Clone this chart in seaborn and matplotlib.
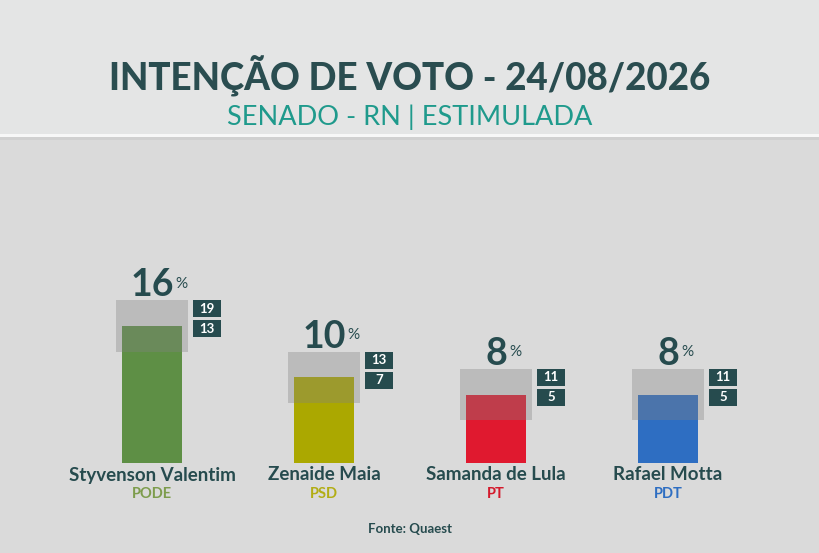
import matplotlib
matplotlib.use("Agg")
import matplotlib.pyplot as plt
import seaborn as sns
from matplotlib.patches import Rectangle

# données
candidatos = ["Styvenson Valentim", "Zenaide Maia", "Samanda de Lula", "Rafael Motta"]
partidos = ["PODE", "PSD", "PT", "PDT"]
valores = [16, 10, 8, 8]
limite_sup = [19, 13, 11, 11]
limite_inf = [13, 7, 5, 5]

cores = ["#5e8f45", "#aba800", "#e0192f", "#2e6ec2"]
cores_partido = ["#7d9c4c", "#b2ad14", "#d41a2c", "#2e6ec2"]
TEAL = "#264b4e"
PX = 0.72  # 1 px en points (dpi 100)

sns.set_theme(style="white")
plt.rcParams["font.family"] = ["Lato", "DejaVu Sans"]

fig = plt.figure(figsize=(8.2, 5.53), dpi=100)
fig.patch.set_facecolor("#dadada")

# bandeau du titre
fig.patches.append(Rectangle((0, 1 - 134 / 553), 1, 134 / 553, transform=fig.transFigure,
                             facecolor="#e4e5e5", edgecolor="none", zorder=0))
fig.patches.append(Rectangle((0, 1 - 140 / 553), 1, 4 / 553, transform=fig.transFigure,
                             facecolor="#d0d0d0", edgecolor="none", zorder=0))
fig.patches.append(Rectangle((0, 1 - 137 / 553), 1, 3 / 553, transform=fig.transFigure,
                             facecolor="#f7f7f7", edgecolor="none", zorder=1))

fig.text(0.5, 1 - 76 / 553, "INTENÇÃO DE VOTO - 24/08/2026", ha="center", va="center",
         fontsize=26.5, fontweight="black", color="#2a4d50")
fig.text(0.5, 1 - 117 / 553, "SENADO - RN | ESTIMULADA", ha="center", va="center",
         fontsize=19.5, fontweight="normal", color="#1f9a8c")
fig.text(0.5, 1 - 529 / 553, "Fonte: Quaest", ha="center", va="center",
         fontsize=9.5, fontweight="bold", color=TEAL)

# axe : y=0 au pixel 463, 8.56 px par point de pourcentage
ax = fig.add_axes([0, (553 - 463) / 553, 1, 300 / 553])
ax.set_facecolor("none")
sns.barplot(x=candidatos, y=valores, hue=candidatos, palette=cores, legend=False,
            width=60 / 172, saturation=1, linewidth=0, edgecolor="none", ax=ax, zorder=2)

pos = list(range(len(candidatos)))
# marge d'erreur
ax.bar(pos, [s - i for s, i in zip(limite_sup, limite_inf)], bottom=limite_inf,
       width=72 / 172, color="#828282", alpha=0.35, zorder=3, linewidth=0)

# petites boîtes à droite
box_h = 17 / 8.56
gap = 3 / 8.56
bx = [p + 55 / 172 for p in pos]
ax.bar(bx, box_h, bottom=[s - box_h for s in limite_sup], width=28 / 172,
       color=TEAL, zorder=4, linewidth=0)
ax.bar(bx, box_h, bottom=[s - 2 * box_h - gap for s in limite_sup], width=28 / 172,
       color=TEAL, zorder=4, linewidth=0)

for p, x, v, s, i, nome, part, cp in zip(pos, bx, valores, limite_sup, limite_inf,
                                         candidatos, partidos, cores_partido):
    ax.text(x, s - box_h / 2, str(s), ha="center", va="center", fontsize=9.5,
            fontweight="bold", color="white", zorder=5)
    ax.text(x, s - 1.5 * box_h - gap, str(i), ha="center", va="center", fontsize=9.5,
            fontweight="bold", color="white", zorder=5)
    num = ax.annotate(str(v), xy=(p, s), xytext=(0, 4 * PX), textcoords="offset points",
                      ha="center", va="baseline", fontsize=27, fontweight="bold",
                      color=TEAL, zorder=5)
    ax.annotate("%", xy=(1, 0.55), xycoords=num, xytext=(2 * PX, 0),
                textcoords="offset points", ha="left", va="center", fontsize=11,
                color=TEAL)
    ax.annotate(nome, xy=(p, 0), xytext=(0, -12 * PX), textcoords="offset points",
                ha="center", va="center", fontsize=13.5, fontweight="bold", color=TEAL,
                annotation_clip=False)
    ax.annotate(part, xy=(p, 0), xytext=(0, -31 * PX), textcoords="offset points",
                ha="center", va="center", fontsize=10.5, fontweight="bold", color=cp,
                annotation_clip=False)

ax.set_xlim(-152 / 172, (820 - 152) / 172)
ax.set_ylim(0, 300 / 8.56)
ax.axis("off")

fig.savefig("out.png", dpi=100, facecolor=fig.get_facecolor())
